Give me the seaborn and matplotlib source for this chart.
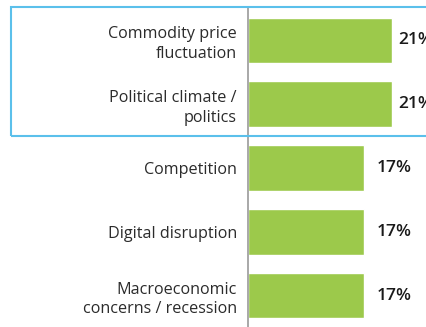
import matplotlib
matplotlib.use("Agg")
import matplotlib.pyplot as plt
from matplotlib.patches import Rectangle
import seaborn as sns
import pandas as pd

categories = [
    "Commodity price\nfluctuation",
    "Political climate /\npolitics",
    "Competition",
    "Digital disruption",
    "Macroeconomic\nconcerns / recession",
]
shares = [21, 21, 17, 17, 17]
value_labels = ["21%", "21%", "17%", "17%", "17%"]

df = pd.DataFrame({"category": categories, "share": shares})

sns.set_theme(style="white")
plt.rcParams["font.family"] = ["Open Sans", "DejaVu Sans"]

W, H = 426, 327
fig = plt.figure(figsize=(W / 100, H / 100), dpi=100)
ax = fig.add_axes([248 / W, 0, (W - 248) / W, 320 / H])

sns.barplot(data=df, x="share", y="category", orient="h", color="#9cc94b",
            saturation=1, width=0.72, ax=ax)

ax.set_xlim(0, 26)
ax.set_ylim(4.494, -0.525)
ax.set_xlabel("")
ax.set_ylabel("")
ax.set_xticks([])
for s in ["top", "right", "bottom"]:
    ax.spines[s].set_visible(False)
ax.spines["left"].set_color("#9a9a9a")
ax.spines["left"].set_linewidth(1.2)
ax.tick_params(axis="y", length=0, pad=8)
for lbl in ax.get_yticklabels():
    lbl.set_fontsize(11.6)
    lbl.set_color("#2b2b2b")
    lbl.set_fontweight("normal")
    lbl.set_linespacing(1.3)
    lbl.set_horizontalalignment("right")

for i, (v, t) in enumerate(zip(shares, value_labels)):
    off = 5 if v > 20 else 9
    ax.annotate(t, xy=(v, i), xytext=(off, 0), textcoords="offset points",
                va="center", ha="left", fontsize=12.5, color="#1a1a1a",
                fontweight="semibold", annotation_clip=False)

# Highlight box around the top two risks
fig.patches.append(Rectangle((11 / W, (H - 136) / H), (W + 10 - 11) / W, 129 / H,
                             transform=fig.transFigure, fill=False,
                             edgecolor="#5bc0eb", linewidth=1.5, zorder=5))

fig.savefig("out.png", dpi=100)
